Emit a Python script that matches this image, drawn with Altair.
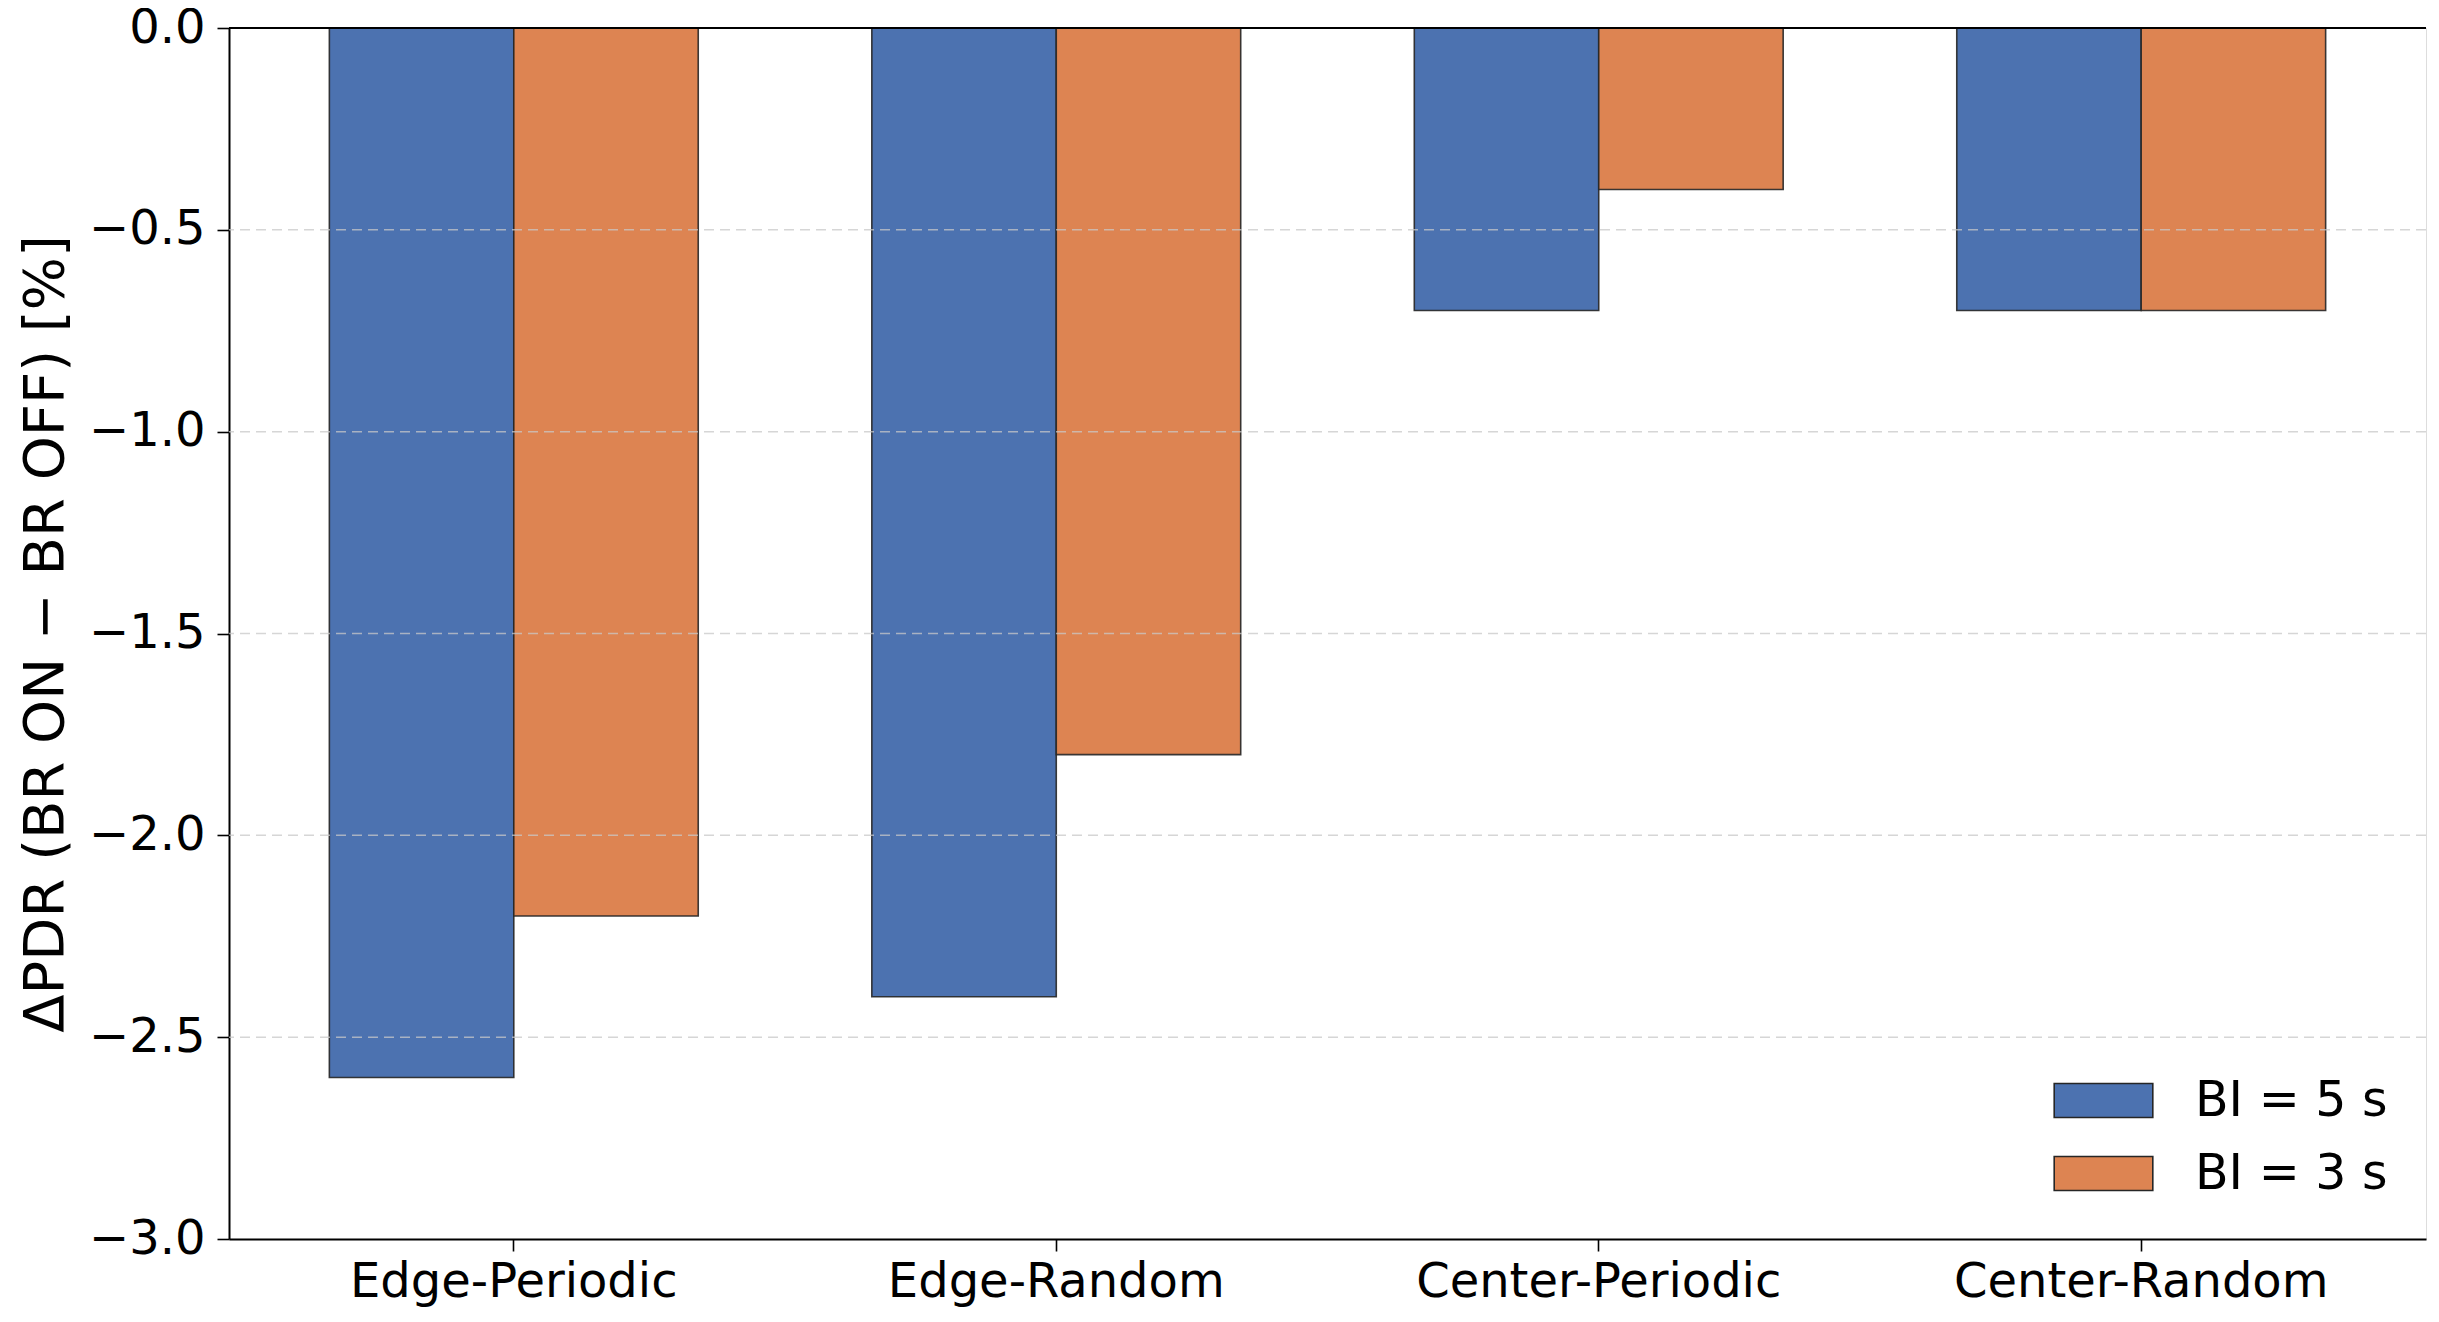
import altair as alt
import pandas as pd

categories = ["Edge-Periodic", "Edge-Random", "Center-Periodic", "Center-Random"]
series = ["BI = 5 s", "BI = 3 s"]
bi5 = [-2.6, -2.4, -0.7, -0.7]
bi3 = [-2.2, -1.8, -0.4, -0.7]
colors = ["#4C72B0", "#DD8452"]
y_ticks = [-3.0, -2.5, -2.0, -1.5, -1.0, -0.5, 0.0]
grid_vals = [-2.5, -2.0, -1.5, -1.0, -0.5]

rows = []
for c, a, b in zip(categories, bi5, bi3):
    rows.append({"cat": c, "series": series[0], "val": a})
    rows.append({"cat": c, "series": series[1], "val": b})
df = pd.DataFrame(rows)

FONT = "DejaVu Sans"

bars = alt.Chart(df).mark_bar(stroke="#262626", strokeWidth=1.6, strokeOpacity=0.9).encode(
    x=alt.X("cat:N", sort=categories, title=None,
            scale=alt.Scale(paddingInner=0.32, paddingOuter=0.185),
            axis=alt.Axis(labelAngle=0, labelFontSize=48, labelFont=FONT, labelColor="black",
                          labelLimit=0, labelPadding=7, tickSize=12, tickWidth=1.6,
                          tickColor="black", domainColor="black", domainWidth=2, grid=False)),
    xOffset=alt.XOffset("series:N", sort=series,
                        scale=alt.Scale(paddingInner=0, paddingOuter=0)),
    y=alt.Y("val:Q", title="ΔPDR (BR ON − BR OFF) [%]",
            scale=alt.Scale(domain=[-3.0, 0.0], nice=False, zero=False),
            axis=alt.Axis(values=y_ticks, format=".1f", labelFontSize=48, labelFont=FONT,
                          labelColor="black", labelPadding=12, tickSize=12, tickWidth=1.6,
                          tickColor="black", domainColor="black", domainWidth=2,
                          titleFontSize=56, titleFont=FONT, titleFontWeight="normal",
                          titleColor="black", titlePadding=14, grid=False)),
    color=alt.Color("series:N", sort=series,
                    scale=alt.Scale(domain=series, range=colors),
                    legend=alt.Legend(title=None, orient="none", legendX=1850, legendY=1048,
                                      labelFontSize=49, labelFont=FONT, labelColor="black",
                                      labelLimit=0,
                                      symbolType="M-2.9,-1L2.9,-1L2.9,1L-2.9,1Z",
                                      symbolSize=1156, symbolStrokeColor="#262626",
                                      symbolStrokeWidth=1.6, labelOffset=67, rowPadding=23,
                                      padding=0)),
)

grid = alt.Chart(pd.DataFrame({"g": grid_vals})).mark_rule(
    color="#c8c8c8", opacity=0.75, strokeDash=[10, 6], strokeWidth=1.5
).encode(y=alt.Y("g:Q"))

top = alt.Chart(pd.DataFrame({"v": [0.0]})).mark_rule(color="black", strokeWidth=2).encode(
    y=alt.Y("v:Q")
)

chart = alt.layer(bars, grid, top).properties(
    width=2197, height=1211,
    autosize=alt.AutoSizeParams(type="none"),
    padding={"left": 221, "top": 20, "right": 5, "bottom": 75},
).configure_view(stroke="black", strokeWidth=2).configure(background="white")

chart.save("out.html", embed_options={"renderer": "svg", "actions": False})
